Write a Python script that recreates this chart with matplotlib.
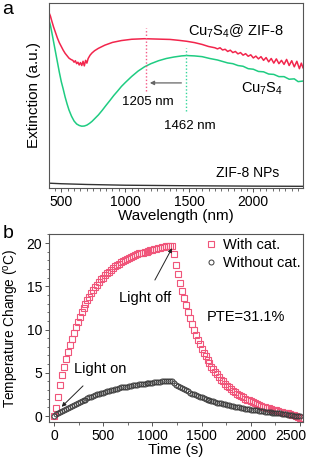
import matplotlib
matplotlib.use("Agg")
import matplotlib.pyplot as plt
import matplotlib.transforms as mtransforms
from matplotlib.ticker import MultipleLocator

plt.rcParams['font.family'] = ['Liberation Sans', 'DejaVu Sans']
plt.rcParams['mathtext.fontset'] = 'custom'
plt.rcParams['mathtext.rm'] = 'Liberation Sans'
plt.rcParams['mathtext.it'] = 'Liberation Sans'
plt.rcParams['mathtext.default'] = 'regular'

# ---- panel a: extinction spectra ----
red_wl = [404, 415, 425, 440, 455, 470, 485, 500, 515, 530, 545, 560, 575, 590, 600, 610, 620,
          630, 640, 650, 660, 670, 680, 690, 700, 710, 725, 740, 760, 790, 840, 900, 970, 1050,
          1150, 1250, 1350, 1420, 1480, 1540, 1600, 1650, 1700, 1720, 1740, 1760, 1780, 1800,
          1820, 1840, 1860, 1880, 1900, 1920, 1940, 1960, 1980, 2000, 2020, 2040, 2060, 2080,
          2100, 2120, 2140, 2160, 2180, 2200, 2220, 2240, 2260, 2280, 2300, 2320, 2340, 2360,
          2375, 2388]
red_ext = [0.948, 0.93, 0.905, 0.87, 0.84, 0.81, 0.785, 0.765, 0.745, 0.728, 0.715, 0.702, 0.695,
           0.69, 0.68, 0.688, 0.672, 0.68, 0.665, 0.678, 0.662, 0.685, 0.66, 0.69, 0.675, 0.70,
           0.718, 0.73, 0.742, 0.755, 0.772, 0.787, 0.797, 0.804, 0.807, 0.805, 0.803, 0.798,
           0.793, 0.786, 0.776, 0.765, 0.758, 0.752, 0.758, 0.746, 0.75, 0.738, 0.745, 0.732,
           0.738, 0.725, 0.732, 0.718, 0.726, 0.712, 0.72, 0.703, 0.713, 0.698, 0.71, 0.69,
           0.705, 0.682, 0.70, 0.675, 0.698, 0.672, 0.69, 0.668, 0.695, 0.662, 0.688, 0.655,
           0.685, 0.645, 0.675, 0.65]

green_wl = [404, 415, 425, 440, 455, 470, 485, 500, 515, 530, 545, 560, 580, 600, 620, 640, 660,
            680, 700, 720, 740, 760, 790, 820, 850, 880, 910, 940, 970, 1000, 1050, 1100, 1150,
            1200, 1260, 1320, 1380, 1440, 1480, 1540, 1600, 1660, 1720, 1760, 1800, 1840, 1880,
            1920, 1960, 2000, 2040, 2080, 2120, 2160, 2200, 2240, 2280, 2320, 2350, 2388]
green_ext = [0.908, 0.88, 0.845, 0.79, 0.735, 0.68, 0.625, 0.575, 0.535, 0.492, 0.455, 0.422,
             0.388, 0.362, 0.346, 0.338, 0.334, 0.335, 0.34, 0.349, 0.36, 0.374, 0.395, 0.42,
             0.447, 0.473, 0.50, 0.524, 0.549, 0.57, 0.603, 0.632, 0.655, 0.672, 0.688, 0.70,
             0.708, 0.714, 0.716, 0.714, 0.71, 0.70, 0.692, 0.684, 0.676, 0.672, 0.662, 0.658,
             0.645, 0.642, 0.63, 0.628, 0.616, 0.614, 0.602, 0.602, 0.588, 0.59, 0.575, 0.578]

zif_wl = [404, 500, 700, 1000, 1500, 2000, 2388]
zif_ext = [0.026, 0.023, 0.019, 0.015, 0.012, 0.010, 0.009]

peak_composite = 1160
peak_bare = 1475

# ---- panel b: photothermal heating / cooling ----
time_s = list(range(0, 2520, 20))
with_cat = [0.0, 0.9, 2.2, 3.6, 4.7, 5.7, 6.6, 7.4, 8.2, 8.9, 9.6, 10.3, 10.9, 11.5, 12.0, 12.5,
            13.0, 13.4, 13.8, 14.2, 14.6, 14.9, 15.2, 15.5, 15.8, 16.0, 16.3, 16.5, 16.7, 16.9,
            17.1, 17.3, 17.5, 17.6, 17.8, 17.9, 18.0, 18.2, 18.3, 18.4, 18.5, 18.6, 18.7, 18.8,
            18.8, 18.9, 19.0, 19.0, 19.1, 19.2, 19.2, 19.3, 19.3, 19.4, 19.4, 19.5, 19.5, 19.6,
            19.6, 19.7, 19.7,
            18.7, 17.5, 16.4, 15.4, 14.5, 13.6, 12.8, 12.0, 11.3, 10.6, 10.0, 9.4, 8.8, 8.3,
            7.8, 7.3, 6.9, 6.5, 6.1, 5.7, 5.4, 5.1, 4.8, 4.5, 4.2, 4.0, 3.7, 3.5, 3.3, 3.1,
            2.9, 2.8, 2.6, 2.4, 2.3, 2.2, 2.0, 1.9, 1.8, 1.7, 1.6, 1.5, 1.4, 1.3, 1.2, 1.1,
            1.0, 0.95, 0.9, 0.8, 0.75, 0.7, 0.65, 0.6, 0.5, 0.45, 0.4, 0.35, 0.3, 0.2,
            0.15, 0.1, 0.0, -0.1, -0.2]
without_cat = [0.0, 0.2, 0.3, 0.45, 0.55, 0.7, 0.85, 0.95, 1.1, 1.2, 1.3, 1.4, 1.5, 1.6, 1.7,
               1.8, 1.9, 2.05, 2.15, 2.25, 2.3, 2.4, 2.5, 2.55, 2.65, 2.7, 2.8, 2.85, 2.9, 3.0,
               3.05, 3.1, 3.15, 3.2, 3.3, 3.3, 3.35, 3.4, 3.45, 3.5, 3.55, 3.6, 3.6, 3.65, 3.7,
               3.7, 3.75, 3.8, 3.8, 3.85, 3.85, 3.9, 3.9, 3.95, 3.95, 4.0, 4.0, 4.05, 4.05, 4.1,
               4.1,
               3.8, 3.6, 3.45, 3.3, 3.2, 3.1, 3.0, 2.85, 2.7, 2.6, 2.5, 2.4, 2.3, 2.2, 2.15,
               2.05, 2.0, 1.9, 1.85, 1.75, 1.7, 1.6, 1.55, 1.5, 1.45, 1.4, 1.35, 1.3, 1.25, 1.2,
               1.15, 1.1, 1.05, 1.0, 0.95, 0.9, 0.85, 0.85, 0.8, 0.75, 0.7, 0.7, 0.65, 0.6, 0.6,
               0.55, 0.5, 0.5, 0.45, 0.45, 0.4, 0.35, 0.35, 0.3, 0.3, 0.25, 0.2, 0.2, 0.15, 0.1,
               0.1, 0.05, 0.0, 0.0, -0.05]
time_ticks = [0, 500, 1000, 1500, 2000, 2500]

fig = plt.figure(figsize=(3.13, 4.62), dpi=100)
ax1 = fig.add_axes([0.1565, 0.5931, 0.8115, 0.4004])
ax2 = fig.add_axes([0.1565, 0.0866, 0.8115, 0.4069])

spine_col = '#555555'
for ax in (ax1, ax2):
    for s in ax.spines.values():
        s.set_color(spine_col)
        s.set_linewidth(0.8)
    ax.tick_params(direction='out', length=3, width=0.7, color=spine_col, labelsize=10, pad=2)
    ax.tick_params(which='minor', direction='out', length=1.8, width=0.6, color=spine_col)

# panel a
ax1.plot(red_wl, red_ext, color='#f2254c', lw=1.1)
ax1.plot(green_wl, green_ext, color='#1fcc82', lw=1.1)
ax1.plot(zif_wl, zif_ext, color='#333333', lw=1.0)
ax1.plot([peak_composite, peak_composite], [0.524, 0.865], color='#f45a86', lw=1.0, ls=(0, (1, 1.5)))
ax1.plot([peak_bare, peak_bare], [0.416, 0.757], color='#33d69a', lw=1.0, ls=(0, (1, 1.5)))
ax1.annotate('', xy=(peak_composite + 10, 0.568), xytext=(peak_bare - 15, 0.568),
             arrowprops=dict(arrowstyle='-|>', color='#666666', lw=0.9, mutation_scale=6))
ax1.text(1865, 0.849, 'Cu$_7$S$_4$@ ZIF-8', ha='center', va='center', fontsize=10.5)
ax1.text(2068, 0.535, 'Cu$_7$S$_4$', ha='center', va='center', fontsize=10.5)
ax1.text(1177, 0.465, '1205 nm', ha='center', va='center', fontsize=9.5)
ax1.text(1506, 0.335, '1462 nm', ha='center', va='center', fontsize=9.5)
ax1.text(1959, 0.081, 'ZIF-8 NPs', ha='center', va='center', fontsize=10)
ax1.set_xlim(404, 2388)
ax1.set_ylim(0, 1)
ax1.set_yticks([])
ax1.xaxis.set_major_locator(MultipleLocator(500))
ax1.xaxis.set_minor_locator(MultipleLocator(50))
ax1.set_xlabel('Wavelength (nm)', fontsize=11, labelpad=0)
ax1.set_ylabel('Extinction (a.u.)', fontsize=11, labelpad=6)

# panel b
ax2.plot(time_s, with_cat, ls='none', marker='s', ms=4.0, mfc='none', mec='#f0557a', mew=0.8,
         label='With cat.')
ax2.plot(time_s, without_cat, ls='none', marker='o', ms=3.6, mfc='none', mec='#3a3a3a', mew=0.7,
         label='Without cat.')
ax2.set_xlim(-51, 2530)
ax2.set_ylim(-0.69, 21.04)
ax2.set_xticks(time_ticks)
ax2.xaxis.set_minor_locator(MultipleLocator(250))
ax2.yaxis.set_major_locator(MultipleLocator(5))
ax2.yaxis.set_minor_locator(MultipleLocator(1))
last = ax2.get_xticklabels()[-1]
last.set_transform(last.get_transform() + mtransforms.ScaledTranslation(-0.09, 0, fig.dpi_scale_trans))
ax2.set_xlabel('Time (s)', fontsize=11, labelpad=0)
ax2.set_ylabel('Temperature Change ($^{o}$C)', fontsize=9.8, labelpad=4)
ax2.legend(loc='upper left', bbox_to_anchor=(0.575, 1.025), frameon=False, fontsize=10.5,
           handletextpad=0.3, handlelength=1.0, borderaxespad=0.2, labelspacing=0.25)
ax2.text(1550, 11.4, 'PTE=31.1%', ha='left', va='center', fontsize=10.5)
ax2.annotate('Light off', xy=(1199, 19.4), xytext=(925, 13.6), ha='center', va='center', fontsize=10.5,
             arrowprops=dict(arrowstyle='-|>', color='#222222', lw=0.7, mutation_scale=6,
                             shrinkA=7, shrinkB=0))
ax2.annotate('Light on', xy=(78, 1.07), xytext=(467, 5.4), ha='center', va='center', fontsize=10.5,
             arrowprops=dict(arrowstyle='-|>', color='#222222', lw=0.7, mutation_scale=6,
                             shrinkA=7, shrinkB=0))

fig.text(0.008, 0.998, 'a', fontsize=14, ha='left', va='top')
fig.text(0.008, 0.512, 'b', fontsize=14, ha='left', va='top')

plt.savefig('out.png', dpi=100)
plt.close()
